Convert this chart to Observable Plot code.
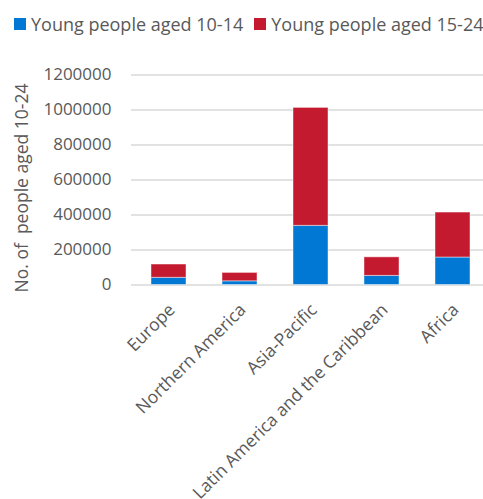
<!DOCTYPE html>
<html>
<head>
<meta charset="utf-8">
<script src="https://cdn.jsdelivr.net/npm/d3@7"></script>
<script src="https://cdn.jsdelivr.net/npm/@observablehq/plot@0.6"></script>
<style>
  html, body { margin: 0; padding: 0; background: #fff; overflow: hidden; width: 483px; height: 499px; }
  #wrap { position: relative; width: 483px; height: 499px; overflow: hidden; }
  #legend { position: absolute; left: 14px; top: 12px; font-family: "Open Sans", sans-serif; font-size: 18px; color: #595959; white-space: nowrap; display: flex; align-items: center; }
  .sw { display: inline-block; width: 12px; height: 12px; margin-right: 5px; }
  .item { display: inline-flex; align-items: center; margin-right: 11px; }
  svg text { white-space: pre; }
  #chart { position: absolute; left: 0; top: 0; width: 490px; }
  #chart svg { max-width: none !important; }
</style>
</head>
<body>
<div id="wrap">
  <div id="chart"></div>
  <div id="legend"></div>
</div>
<script>
const regions = ["Europe", "Northern America", "Asia-Pacific", "Latin America and the Caribbean", "Africa"];
const aged10to14 = [41000, 21000, 338000, 52000, 157000];
const aged15to24 = [76000, 48000, 674000, 106000, 257000];
const seriesNames = ["Young people aged 10-14", "Young people aged 15-24"];
const seriesColors = ["#0078D4", "#C41A2F"];
const yTicks = [0, 200000, 400000, 600000, 800000, 1000000, 1200000];
const yLabel = "No. of \u00a0people aged 10-24";

const rows = [];
regions.forEach((r, i) => {
  rows.push({region: r, series: seriesNames[0], value: aged10to14[i]});
  rows.push({region: r, series: seriesNames[1], value: aged15to24[i]});
});

const font = "'Open Sans', sans-serif";

const chart = Plot.plot({
  width: 490,
  height: 499,
  marginLeft: 131,
  marginRight: 1,
  marginTop: 74.5,
  marginBottom: 214.5,
  style: {fontFamily: font, fontSize: "17px", color: "#595959", background: "transparent"},
  x: {domain: regions, paddingInner: 0.51, paddingOuter: 0.255, label: null},
  y: {domain: [0, 1200000], label: null},
  color: {domain: seriesNames, range: seriesColors},
  marks: [
    Plot.gridY(yTicks, {stroke: "#d9d9d9", strokeOpacity: 1, strokeWidth: 1.5}),
    Plot.barY(rows, Plot.stackY({x: "region", y: "value", fill: "series", order: seriesNames, stroke: "#ffffff", strokeOpacity: 0.45, strokeWidth: 1})),
    Plot.axisY({ticks: yTicks, tickSize: 0, tickPadding: 20, tickFormat: d => String(d), fontSize: 17, fill: "#595959", label: null}),
    Plot.axisX({tickSize: 0, tickRotate: -45, tickPadding: 22, dx: 3, fontSize: 17.5, fill: "#595959", label: null}),
    Plot.text([yLabel], {frameAnchor: "left", dx: -109, dy: 8, rotate: -90, textAnchor: "middle", lineAnchor: "middle", fontSize: 17.5, fill: "#595959"})
  ]
});
document.getElementById("chart").appendChild(chart);

const legend = document.getElementById("legend");
seriesNames.forEach((n, i) => {
  const it = document.createElement("span");
  it.className = "item";
  const sw = document.createElement("span");
  sw.className = "sw";
  sw.style.background = seriesColors[i];
  it.appendChild(sw);
  it.appendChild(document.createTextNode(n));
  legend.appendChild(it);
});
</script>
</body>
</html>
